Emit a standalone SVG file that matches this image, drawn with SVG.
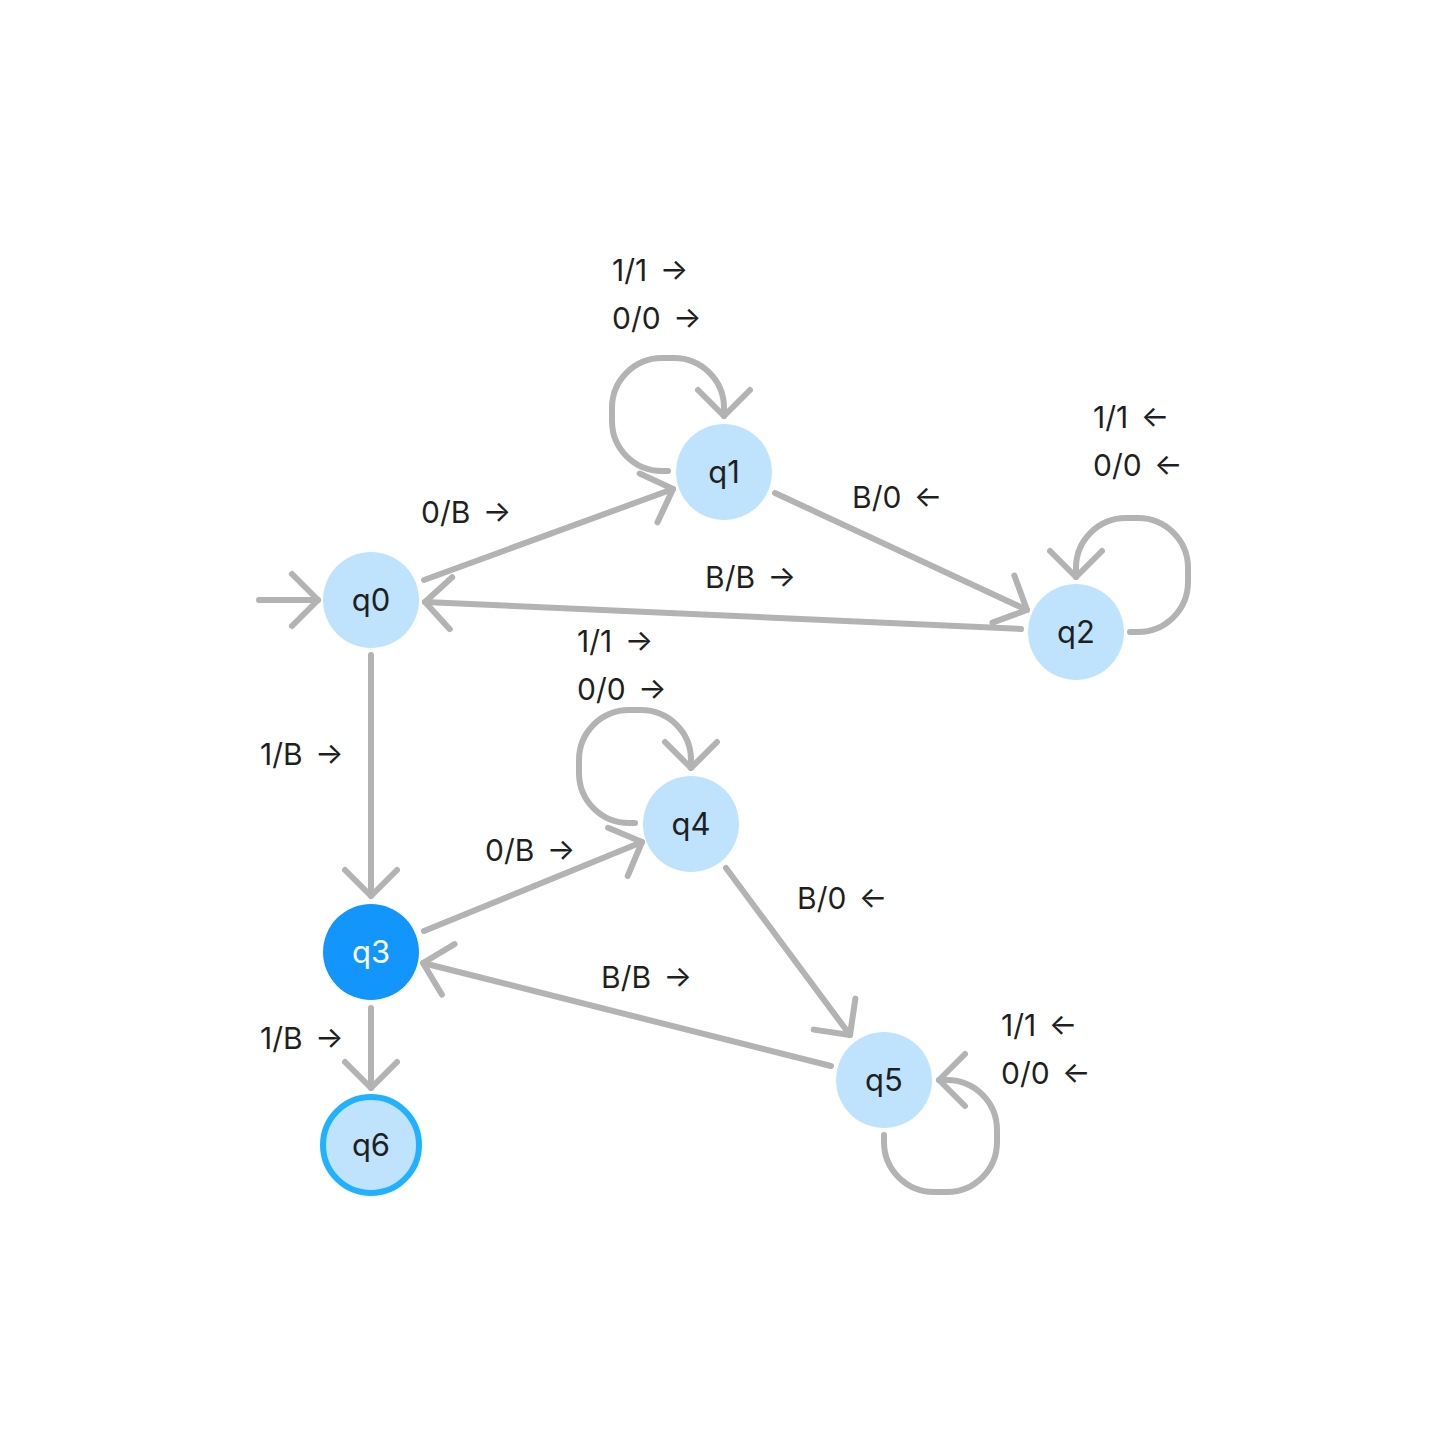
<svg xmlns="http://www.w3.org/2000/svg" width="1448" height="1452" viewBox="0 0 1448 1452">
<style>
.edge{fill:none;stroke:#b3b3b3;stroke-width:6;stroke-linecap:round;stroke-linejoin:round;marker-end:url(#ah)}
.node{fill:#bfe3fd}
.nt{font-family:Inter,"Liberation Sans",sans-serif;font-size:31px;fill:#1f1f1f;text-anchor:middle}
.lbl{font-family:Inter,"Liberation Sans",sans-serif;font-size:30px;fill:#1f1f1f;word-spacing:4px}
</style>
<defs>
<marker id="ah" markerUnits="userSpaceOnUse" orient="auto" refX="0" refY="0" markerWidth="60" markerHeight="60" viewBox="-30 -30 60 60" overflow="visible">
<path d="M-26,-26 L0,0 L-26,26" fill="none" stroke="#b3b3b3" stroke-width="6" stroke-linecap="round" stroke-linejoin="round"/>
</marker>
</defs>
<rect width="1448" height="1452" fill="#ffffff"/>
<g id="connectors">
<path class="edge" d="M259,600 L318,600"/>
<path class="edge" d="M424,580 L673,489"/>
<path class="edge" d="M775,493 L1027,610"/>
<path class="edge" d="M1021,629 L425,602"/>
<path class="edge" d="M668,471 H662 A50,50 0 0 1 612,421 V408 A50,50 0 0 1 662,358 H674 A50,50 0 0 1 724,408 V416"/>
<path class="edge" d="M1130,632 H1138 A50,50 0 0 0 1188,582 V568 A50,50 0 0 0 1138,518 H1126 A50,50 0 0 0 1076,568 V577"/>
<path class="edge" d="M371,655 L371,896"/>
<path class="edge" d="M424,931 L642,842"/>
<path class="edge" d="M635,823 H629 A50,50 0 0 1 579,773 V760 A50,50 0 0 1 629,710 H641 A50,50 0 0 1 691,760 V768"/>
<path class="edge" d="M726,868 L850,1035"/>
<path class="edge" d="M831,1066 L423,963"/>
<path class="edge" d="M884,1135 V1142 A50,50 0 0 0 934,1192 H947 A50,50 0 0 0 997,1142 V1130 A50,50 0 0 0 947,1080 H939"/>
<path class="edge" d="M371,1008 L371,1088"/>
</g>
<g id="labels">
<text class="lbl" x="612" y="281">1/1 →</text>
<text class="lbl" x="612" y="329">0/0 →</text>
<text class="lbl" x="421" y="523">0/B →</text>
<text class="lbl" x="852" y="508">B/0 ←</text>
<text class="lbl" x="705" y="588">B/B →</text>
<text class="lbl" x="1093" y="428">1/1 ←</text>
<text class="lbl" x="1093" y="476">0/0 ←</text>
<text class="lbl" x="577" y="652">1/1 →</text>
<text class="lbl" x="577" y="700">0/0 →</text>
<text class="lbl" x="260" y="765">1/B →</text>
<text class="lbl" x="485" y="861">0/B →</text>
<text class="lbl" x="797" y="909">B/0 ←</text>
<text class="lbl" x="601" y="988">B/B →</text>
<text class="lbl" x="1001" y="1036">1/1 ←</text>
<text class="lbl" x="1001" y="1084">0/0 ←</text>
<text class="lbl" x="260" y="1049">1/B →</text>
</g>
<g id="q0"><circle class="node" cx="371" cy="600" r="48"/><text class="nt" x="371" y="611">q0</text></g>
<g id="q1"><circle class="node" cx="724" cy="472" r="48"/><text class="nt" x="724" y="483">q1</text></g>
<g id="q2"><circle class="node" cx="1076" cy="632" r="48"/><text class="nt" x="1076" y="643">q2</text></g>
<g id="q3"><circle cx="371" cy="952" r="48" fill="#1296fc"/><text class="nt" x="371" y="963" style="fill:#ffffff">q3</text></g>
<g id="q4"><circle class="node" cx="691" cy="824" r="48"/><text class="nt" x="691" y="835">q4</text></g>
<g id="q5"><circle class="node" cx="884" cy="1080" r="48"/><text class="nt" x="884" y="1091">q5</text></g>
<g id="q6"><circle class="node" cx="371" cy="1145" r="48" stroke="#20b2ff" stroke-width="6"/><text class="nt" x="371" y="1156">q6</text></g>
</svg>
